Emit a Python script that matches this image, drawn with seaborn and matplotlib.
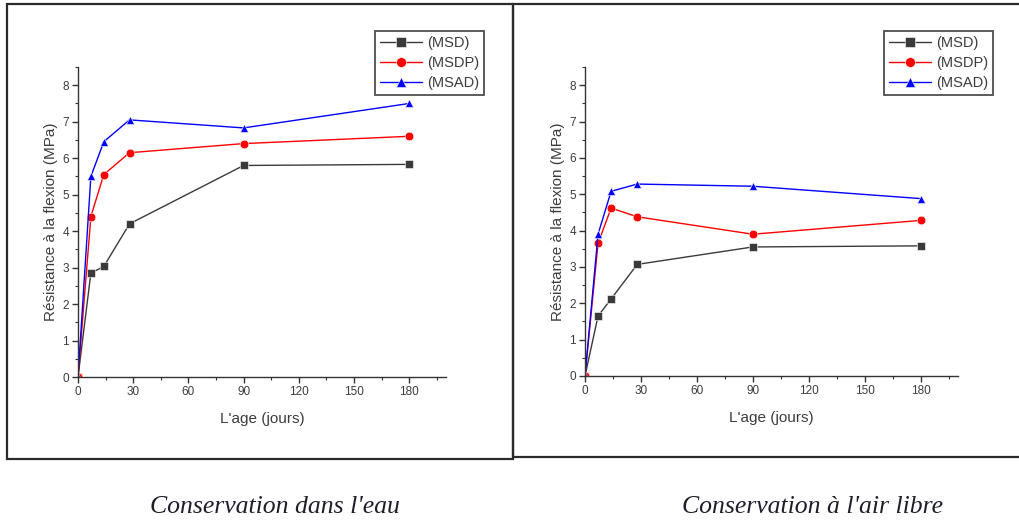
import matplotlib
matplotlib.use("Agg")
import matplotlib.pyplot as plt
import seaborn as sns
import pandas as pd
from matplotlib.patches import Rectangle
from matplotlib.ticker import MultipleLocator

sns.set_style("white")
plt.rcParams['font.family'] = ['Liberation Sans', 'DejaVu Sans']

days = [0, 7, 14, 28, 90, 180]
series_names = ["(MSD)", "(MSDP)", "(MSAD)"]

eau_msd = [0, 2.85, 3.03, 4.2, 5.8, 5.83]
eau_msdp = [0, 4.4, 5.55, 6.15, 6.4, 6.6]
eau_msad = [0, 5.5, 6.45, 7.05, 6.83, 7.5]

air_msd = [0, 1.65, 2.12, 3.07, 3.55, 3.58]
air_msdp = [0, 3.65, 4.62, 4.38, 3.9, 4.28]
air_msad = [0, 3.9, 5.08, 5.28, 5.22, 4.88]

captions = ["Conservation dans l'eau", "Conservation à l'air libre"]
xlabel = "L'age (jours)"
ylabel = "Résistance à la flexion (MPa)"

palette = {"(MSD)": "#3a3a3a", "(MSDP)": "#ff0000", "(MSAD)": "#0000ff"}
markers = {"(MSD)": "s", "(MSDP)": "o", "(MSAD)": "^"}
txt = "#3c3c3c"


def make_df(a, b, c):
    rows = []
    for name, vals in zip(series_names, [a, b, c]):
        for d, v in zip(days, vals):
            rows.append({"days": d, "val": v, "serie": name})
    return pd.DataFrame(rows)


fig = plt.figure(figsize=(10.19, 5.22), dpi=100)

# panel frames
fig.patches.append(Rectangle((7 / 1019, 63 / 522), 506 / 1019, 455 / 522,
                             transform=fig.transFigure, fill=False,
                             edgecolor="#2a2a2a", linewidth=1.6))
fig.patches.append(Rectangle((513 / 1019, 65 / 522), 520 / 1019, 453 / 522,
                             transform=fig.transFigure, fill=False,
                             edgecolor="#2a2a2a", linewidth=1.6, clip_on=False))

axes_pos = [
    [78 / 1019, 145 / 522, 368 / 1019, 310 / 522],
    [585 / 1019, 146 / 522, 373 / 1019, 309 / 522],
]
legend_anchor = [(1.103, 1.116), (1.094, 1.117)]
datasets = [make_df(eau_msd, eau_msdp, eau_msad), make_df(air_msd, air_msdp, air_msad)]
caption_x = [275 / 1019, 812 / 1019]

for i in range(2):
    ax = fig.add_axes(axes_pos[i])
    sns.lineplot(data=datasets[i], x="days", y="val", hue="serie", style="serie",
                 palette=palette, markers=markers, dashes=False, ax=ax,
                 linewidth=1.0, markersize=6.2, markeredgewidth=0.4)
    ax.set_xlim(0, 200)
    ax.set_ylim(0, 8.5)
    ax.set_xticks([0, 30, 60, 90, 120, 150, 180])
    ax.set_yticks(range(0, 9))
    ax.xaxis.set_minor_locator(MultipleLocator(15))
    ax.yaxis.set_minor_locator(MultipleLocator(0.5))
    ax.tick_params(which="major", direction="out", length=4, width=1, colors="#333333",
                   labelcolor=txt, labelsize=8.5, bottom=True, left=True, pad=2.5)
    ax.tick_params(which="minor", direction="out", length=2.5, width=0.8, colors="#333333",
                   bottom=True, left=True)
    for s in ["top", "right"]:
        ax.spines[s].set_visible(False)
    for s in ["left", "bottom"]:
        ax.spines[s].set_color("#333333")
        ax.spines[s].set_linewidth(1.0)
    ax.set_xlabel(xlabel, color=txt, fontsize=11, labelpad=10)
    ax.set_ylabel(ylabel, color=txt, fontsize=11, labelpad=3)
    ax.patch.set_alpha(0)
    leg = ax.legend(loc="upper right", bbox_to_anchor=legend_anchor[i], fontsize=10.5,
                    frameon=True, fancybox=False, edgecolor="#222222",
                    handlelength=2.9, borderpad=0.35, labelspacing=0.4,
                    handletextpad=0.3, borderaxespad=0, markerscale=1.15)
    leg.get_frame().set_linewidth(1.3)
    for t in leg.get_texts():
        t.set_color(txt)
    fig.text(caption_x[i], 1 - 507 / 522, captions[i], ha="center", va="center",
             fontsize=18.5, style="italic", family="Liberation Serif", color="#1e1e2a")

fig.savefig("out.png", dpi=100)
